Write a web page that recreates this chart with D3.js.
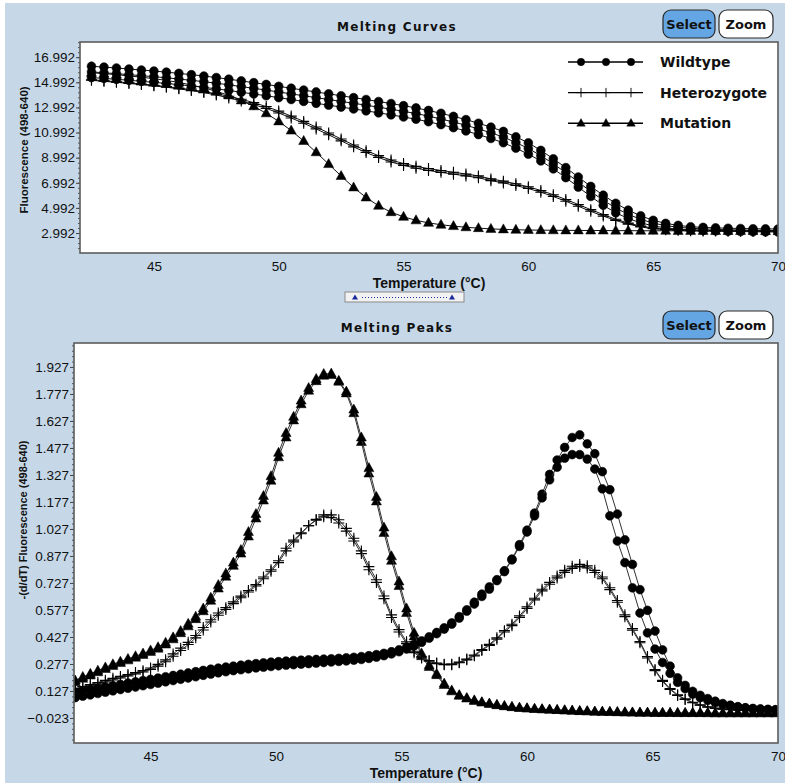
<!DOCTYPE html>
<html><head><meta charset="utf-8">
<script src="https://cdn.jsdelivr.net/npm/d3@7"></script>
<style>body{margin:0;background:#fff;}svg{display:block;}</style>
</head><body><svg id="c" width="785" height="783"></svg>
<script>
// ---------- DATA: Melting curves (top) ----------
const tempTop = [42.5,43,43.5,44,44.5,45,45.5,46,46.5,47,47.5,48,48.5,49,49.5,50,50.5,51,51.5,52,52.5,53,53.5,54,54.5,55,55.5,56,56.5,57,57.5,58,58.5,59,59.5,60,60.5,61,61.5,62,62.5,63,63.5,64,64.5,65,65.5,66,66.5,67,67.5,68,68.5,69,69.5,70];
const wildCurve1 = [16.27,16.20,16.13,16.05,15.97,15.89,15.80,15.70,15.60,15.49,15.37,15.24,15.10,14.96,14.82,14.67,14.52,14.37,14.22,14.07,13.92,13.77,13.62,13.46,13.30,13.13,12.95,12.75,12.52,12.28,12.02,11.73,11.42,11.08,10.65,10.17,9.57,8.90,8.20,7.45,6.70,6.00,5.36,4.81,4.36,4.00,3.76,3.60,3.49,3.44,3.40,3.37,3.35,3.33,3.32,3.31];
const wildCurve2 = [15.82,15.75,15.68,15.60,15.52,15.44,15.35,15.25,15.15,15.04,14.92,14.79,14.65,14.51,14.37,14.22,14.07,13.92,13.77,13.62,13.47,13.32,13.17,13.01,12.85,12.68,12.50,12.30,12.07,11.83,11.57,11.28,10.97,10.63,10.20,9.72,9.15,8.50,7.80,7.05,6.30,5.60,4.98,4.48,4.08,3.78,3.58,3.45,3.37,3.32,3.28,3.25,3.23,3.21,3.20,3.19];
const wildCurve3 = [15.37,15.30,15.23,15.15,15.07,14.99,14.90,14.80,14.70,14.59,14.47,14.34,14.20,14.06,13.92,13.77,13.62,13.47,13.32,13.17,13.02,12.87,12.72,12.56,12.40,12.23,12.05,11.85,11.62,11.38,11.12,10.83,10.52,10.18,9.75,9.27,8.73,8.10,7.40,6.65,5.90,5.20,4.60,4.15,3.80,3.56,3.40,3.30,3.25,3.20,3.16,3.13,3.11,3.09,3.08,3.07];
const hetCurve1 = [15.20,15.12,15.04,14.95,14.86,14.76,14.65,14.53,14.40,14.25,14.08,13.88,13.64,13.37,13.06,12.70,12.30,11.88,11.43,10.96,10.48,10.00,9.55,9.15,8.80,8.52,8.30,8.12,7.97,7.83,7.69,7.54,7.30,7.12,6.91,6.67,6.38,6.04,5.66,5.26,4.85,4.46,4.09,3.78,3.54,3.38,3.30,3.25,3.22,3.20,3.19,3.18,3.17,3.17,3.16,3.16];
const hetCurve2 = [15.15,15.07,14.99,14.90,14.81,14.71,14.60,14.47,14.33,14.17,13.98,13.75,13.50,13.22,12.91,12.55,12.15,11.73,11.28,10.81,10.33,9.85,9.40,9.00,8.65,8.37,8.15,7.97,7.82,7.68,7.54,7.39,7.16,6.98,6.77,6.53,6.24,5.90,5.52,5.12,4.72,4.34,3.99,3.70,3.48,3.33,3.26,3.21,3.18,3.16,3.15,3.14,3.13,3.13,3.12,3.12];
const mutCurve1 = [15.75,15.68,15.60,15.50,15.40,15.28,15.14,14.98,14.78,14.55,14.28,13.95,13.55,13.08,12.52,11.88,11.15,10.32,9.42,8.48,7.53,6.62,5.82,5.16,4.65,4.28,4.00,3.80,3.65,3.54,3.45,3.38,3.32,3.28,3.25,3.23,3.22,3.21,3.20,3.20,3.19,3.19,3.18,3.18,3.17,3.17,3.17,3.16,3.16,3.16,3.15,3.15,3.15,3.15,3.14,3.14];

// ---------- DATA: Melting peaks (bottom) ----------
const tempPeak = [42.0,42.3,42.6,42.9,43.2,43.5,43.8,44.1,44.4,44.7,45.0,45.3,45.6,45.9,46.2,46.5,46.8,47.1,47.4,47.7,48.0,48.3,48.6,48.9,49.2,49.5,49.8,50.1,50.4,50.7,51.0,51.3,51.6,51.9,52.2,52.5,52.8,53.1,53.4,53.7,54.0,54.3,54.6,54.9,55.2,55.5,55.8,56.1,56.4,56.7,57.0,57.3,57.6,57.9,58.2,58.5,58.8,59.1,59.4,59.7,60.0,60.3,60.6,60.9,61.2,61.5,61.8,62.1,62.4,62.7,63.0,63.3,63.6,63.9,64.2,64.5,64.8,65.1,65.4,65.7,66.0,66.3,66.6,66.9,67.2,67.5,67.8,68.1,68.4,68.7,69.0,69.3,69.6,69.9];
const wildPeak1 = [0.120,0.128,0.135,0.142,0.150,0.157,0.164,0.171,0.178,0.185,0.192,0.199,0.206,0.213,0.220,0.227,0.234,0.241,0.248,0.254,0.260,0.265,0.270,0.275,0.279,0.283,0.287,0.290,0.293,0.296,0.298,0.300,0.302,0.304,0.306,0.308,0.311,0.314,0.318,0.323,0.329,0.336,0.345,0.356,0.370,0.386,0.405,0.428,0.452,0.478,0.505,0.540,0.578,0.620,0.665,0.705,0.745,0.795,0.860,0.940,1.020,1.115,1.220,1.330,1.410,1.480,1.535,1.550,1.500,1.445,1.345,1.245,1.110,0.967,0.830,0.690,0.575,0.460,0.355,0.265,0.200,0.158,0.125,0.103,0.085,0.070,0.057,0.048,0.040,0.034,0.030,0.027,0.025,0.023];
const wildPeak2 = [0.090,0.098,0.105,0.113,0.120,0.128,0.135,0.142,0.149,0.156,0.163,0.170,0.178,0.185,0.192,0.199,0.206,0.214,0.221,0.228,0.234,0.240,0.245,0.250,0.255,0.259,0.263,0.267,0.270,0.273,0.276,0.279,0.282,0.285,0.288,0.291,0.294,0.298,0.302,0.308,0.315,0.323,0.333,0.345,0.360,0.377,0.397,0.420,0.445,0.471,0.498,0.532,0.570,0.610,0.652,0.693,0.740,0.790,0.855,0.930,1.010,1.100,1.200,1.300,1.370,1.420,1.440,1.440,1.415,1.360,1.250,1.100,0.960,0.840,0.700,0.560,0.450,0.360,0.285,0.225,0.175,0.140,0.110,0.090,0.075,0.062,0.052,0.044,0.037,0.032,0.028,0.025,0.023,0.021];
const hetPeak1 = [0.140,0.152,0.163,0.174,0.186,0.197,0.208,0.218,0.229,0.240,0.255,0.275,0.300,0.333,0.365,0.397,0.435,0.480,0.523,0.560,0.590,0.622,0.654,0.685,0.718,0.760,0.800,0.850,0.920,0.965,1.005,1.045,1.075,1.095,1.090,1.060,1.015,0.960,0.890,0.800,0.730,0.640,0.535,0.455,0.390,0.340,0.310,0.292,0.279,0.273,0.273,0.284,0.300,0.322,0.352,0.380,0.415,0.455,0.490,0.535,0.585,0.633,0.683,0.720,0.755,0.786,0.808,0.818,0.810,0.785,0.750,0.690,0.620,0.540,0.465,0.395,0.310,0.240,0.180,0.135,0.102,0.080,0.062,0.048,0.037,0.030,0.026,0.023,0.021,0.020,0.019,0.018,0.018,0.017];
const hetPeak2 = [0.130,0.142,0.154,0.165,0.177,0.188,0.199,0.210,0.221,0.232,0.246,0.265,0.289,0.320,0.352,0.385,0.422,0.466,0.510,0.548,0.580,0.612,0.645,0.677,0.710,0.750,0.792,0.840,0.905,0.955,1.000,1.045,1.080,1.105,1.105,1.078,1.030,0.975,0.905,0.818,0.745,0.655,0.550,0.468,0.400,0.348,0.316,0.296,0.282,0.275,0.276,0.287,0.304,0.327,0.357,0.386,0.422,0.462,0.498,0.544,0.594,0.642,0.692,0.730,0.766,0.797,0.820,0.830,0.822,0.797,0.760,0.700,0.630,0.550,0.474,0.402,0.318,0.246,0.186,0.140,0.106,0.083,0.064,0.050,0.039,0.032,0.027,0.024,0.022,0.021,0.020,0.019,0.019,0.018];
const mutPeak1 = [0.185,0.205,0.222,0.240,0.258,0.275,0.290,0.305,0.320,0.335,0.352,0.370,0.395,0.425,0.460,0.500,0.540,0.585,0.645,0.715,0.780,0.840,0.910,1.010,1.110,1.210,1.320,1.450,1.560,1.650,1.740,1.810,1.860,1.888,1.890,1.845,1.780,1.670,1.510,1.335,1.180,1.005,0.850,0.710,0.560,0.430,0.320,0.260,0.215,0.160,0.125,0.100,0.085,0.072,0.063,0.055,0.048,0.042,0.037,0.033,0.030,0.027,0.025,0.023,0.021,0.019,0.017,0.015,0.014,0.012,0.011,0.010,0.009,0.008,0.007,0.006,0.006,0.005,0.005,0.005,0.004,0.004,0.004,0.004,0.004,0.003,0.003,0.003,0.003,0.003,0.003,0.003,0.003,0.003];
const mutPeak2 = [0.175,0.195,0.213,0.231,0.249,0.266,0.282,0.297,0.312,0.327,0.344,0.362,0.385,0.414,0.448,0.486,0.526,0.570,0.628,0.696,0.762,0.822,0.890,0.985,1.085,1.185,1.295,1.425,1.535,1.630,1.720,1.795,1.848,1.878,1.882,1.850,1.790,1.690,1.535,1.365,1.205,1.035,0.875,0.735,0.585,0.450,0.335,0.270,0.222,0.168,0.130,0.104,0.088,0.075,0.065,0.057,0.050,0.044,0.039,0.034,0.031,0.028,0.026,0.024,0.022,0.020,0.018,0.016,0.015,0.013,0.012,0.011,0.010,0.009,0.008,0.007,0.007,0.006,0.006,0.006,0.005,0.005,0.005,0.005,0.004,0.004,0.004,0.004,0.004,0.004,0.004,0.004,0.004,0.004];

// ---------- ticks / labels ----------
const curveTicks = [2.992,4.992,6.992,8.992,10.992,12.992,14.992,16.992];
const peakTicks = [-0.023,0.127,0.277,0.427,0.577,0.727,0.877,1.027,1.177,1.327,1.477,1.627,1.777,1.927];
const tempTicks = [45,50,55,60,65,70];
const legendNames = ['Wildtype','Heterozygote','Mutation'];

// ---------- drawing ----------
const svg = d3.select('#c');
const BG = '#c6d8e8';
svg.append('rect').attr('x',5).attr('y',3).attr('width',780).attr('height',780).attr('fill',BG);

const markers = {
  circle: {d: d3.symbol(d3.symbolCircle, 60)(), fill:'#000', stroke:'#000', sw:0.6},
  plus: {d: 'M-5.5,0H5.5M0,-5.5V5.5', fill:'none', stroke:'#000', sw:1.1},
  tri: {d: 'M0,-5.5L5,3.5L-5,3.5Z', fill:'#000', stroke:'#000', sw:0.5}
};

function drawSeries(g, x, y, temps, vals, mk, lineColor){
  const n = Math.min(temps.length, vals.length);
  const pts = d3.range(n).map(i => [temps[i], vals[i]]);
  g.append('path').datum(pts)
    .attr('d', d3.line().x(d=>x(d[0])).y(d=>y(d[1])))
    .attr('fill','none').attr('stroke',lineColor).attr('stroke-width',1);
  g.append('g').selectAll('path').data(pts).join('path')
    .attr('transform', d=>`translate(${x(d[0])},${y(d[1])})`)
    .attr('d', mk.d).attr('fill', mk.fill).attr('stroke', mk.stroke).attr('stroke-width', mk.sw);
}

function button(x0, y0, w, label, active){
  svg.append('rect').attr('x',x0).attr('y',y0).attr('width',w).attr('height',28).attr('rx',8)
    .attr('fill', active ? '#64a6e4' : '#ffffff').attr('stroke','#2a2a2a').attr('stroke-width',1.2);
  svg.append('text').attr('x',x0+w/2).attr('y',y0+19).attr('text-anchor','middle')
    .attr('font-family','DejaVu Sans, sans-serif').attr('font-weight','bold').attr('font-size',13)
    .attr('fill','#111').text(label);
}

function panel(cfg){
  const x = d3.scaleLinear().domain(cfg.xDomain).range([cfg.left, cfg.right]);
  const y = d3.scaleLinear().domain(cfg.yDomain).range([cfg.bottom, cfg.top]);
  svg.append('rect').attr('x',cfg.left).attr('y',cfg.top).attr('width',cfg.right-cfg.left)
    .attr('height',cfg.bottom-cfg.top).attr('fill','#fff');
  const clipId = 'clip'+cfg.id;
  svg.append('clipPath').attr('id',clipId).append('rect').attr('x',cfg.left).attr('y',cfg.top)
    .attr('width',cfg.right-cfg.left).attr('height',cfg.bottom-cfg.top);

  // minor y ticks
  const t0 = cfg.yTicks[0];
  const minor = d3.range(-60, 200).map(i => t0 + i*cfg.minorStep)
    .filter(v => v > cfg.yDomain[0] && v < cfg.yDomain[1]);
  svg.append('g').attr('transform',`translate(${cfg.left},0)`)
    .call(d3.axisLeft(y).tickValues(minor).tickSize(2).tickFormat(''))
    .call(s=>{s.select('.domain').remove(); s.selectAll('line').attr('stroke','#555');});
  // major y ticks
  svg.append('g').attr('transform',`translate(${cfg.left},0)`)
    .call(d3.axisLeft(y).tickValues(cfg.yTicks).tickSize(4).tickPadding(1).tickFormat(d3.format('.3f')))
    .call(s=>{
      s.select('.domain').remove();
      s.selectAll('line').attr('stroke','#444');
      s.selectAll('text').attr('font-family','Liberation Sans, Arial, sans-serif').attr('font-size',13.5).attr('fill','#111');
    });
  // x ticks
  svg.append('g').attr('transform',`translate(0,${cfg.bottom})`)
    .call(d3.axisBottom(x).tickValues(tempTicks).tickSize(0).tickPadding(8).tickFormat(d3.format('d')))
    .call(s=>{
      s.select('.domain').remove();
      s.selectAll('text').attr('font-family','Liberation Sans, Arial, sans-serif').attr('font-size',13.5).attr('fill','#111');
    });

  const g = svg.append('g').attr('clip-path',`url(#${clipId})`);
  cfg.series.forEach(s => drawSeries(g, x, y, s.t, s.v, markers[s.mk], cfg.lineColor));

  // frame
  svg.append('rect').attr('x',cfg.left).attr('y',cfg.top).attr('width',cfg.right-cfg.left)
    .attr('height',cfg.bottom-cfg.top).attr('fill','none').attr('stroke','#5c5c5c').attr('stroke-width',1.6);

  // titles
  svg.append('text').attr('x',397).attr('y',cfg.titleY).attr('text-anchor','middle')
    .attr('font-family','DejaVu Sans, sans-serif').attr('font-weight','bold').attr('font-size',12)
    .attr('letter-spacing','1.3px').attr('fill','#111').text(cfg.title);
  svg.append('text').attr('x',(cfg.left+cfg.right)/2).attr('y',cfg.bottom+35).attr('text-anchor','middle')
    .attr('font-family','Liberation Sans, Arial, sans-serif').attr('font-weight','bold').attr('font-size',14)
    .attr('fill','#111').text('Temperature (°C)');
  svg.append('text').attr('transform',`translate(${cfg.yLabelX},${cfg.yLabelY}) rotate(-90)`).attr('text-anchor','middle')
    .attr('font-family','Liberation Sans, Arial, sans-serif').attr('font-weight','bold').attr('font-size',cfg.yLabelSize)
    .attr('fill','#111').text(cfg.yLabel);

  button(663, cfg.top-32, 52, 'Select', true);
  button(719, cfg.top-32, 54, 'Zoom', false);
  return {x, y};
}

panel({
  id:'top', left:80, right:778, top:42, bottom:253,
  xDomain:[42.04,70], yDomain:[1.4,18.2], yTicks:curveTicks, minorStep:0.4,
  title:'Melting Curves', titleY:31, yLabel:'Fluorescence (498-640)', yLabelX:28, yLabelY:150, yLabelSize:11.5,
  lineColor:'#111',
  series:[
    {t:tempTop, v:mutCurve1, mk:'tri'},
    {t:tempTop, v:hetCurve1, mk:'plus'},
    {t:tempTop, v:hetCurve2, mk:'plus'},
    {t:tempTop, v:wildCurve1, mk:'circle'},
    {t:tempTop, v:wildCurve2, mk:'circle'},
    {t:tempTop, v:wildCurve3, mk:'circle'}
  ]
});

panel({
  id:'bot', left:74, right:778, top:343, bottom:743,
  xDomain:[41.95,70], yDomain:[-0.162,2.06], yTicks:peakTicks, minorStep:0.03,
  title:'Melting Peaks', titleY:332, yLabel:'-(d/dT) Fluorescence (498-640)', yLabelX:27, yLabelY:520, yLabelSize:11,
  lineColor:'#333',
  series:[
    {t:tempPeak, v:mutPeak1, mk:'tri'},
    {t:tempPeak, v:mutPeak2, mk:'tri'},
    {t:tempPeak, v:hetPeak1, mk:'plus'},
    {t:tempPeak, v:hetPeak2, mk:'plus'},
    {t:tempPeak, v:wildPeak1, mk:'circle'},
    {t:tempPeak, v:wildPeak2, mk:'circle'}
  ]
});

// legend (top panel)
const legendMk = ['circle','plus','tri'];
legendNames.forEach((name, i) => {
  const ly = 62 + i*30.6;
  svg.append('line').attr('x1',568).attr('x2',643).attr('y1',ly).attr('y2',ly).attr('stroke','#000').attr('stroke-width',1.4);
  [581,606,631].forEach(mx => {
    const m = markers[legendMk[i]];
    svg.append('path').attr('transform',`translate(${mx},${ly}) scale(0.85)`).attr('d',m.d)
      .attr('fill',m.fill).attr('stroke',m.stroke).attr('stroke-width',m.sw);
  });
  svg.append('text').attr('x',660).attr('y',ly+5).attr('font-family','DejaVu Sans, sans-serif')
    .attr('font-weight','bold').attr('font-size',14).attr('fill','#111').text(name);
});

// splitter widget
svg.append('rect').attr('x',345).attr('y',292).attr('width',119).attr('height',10)
  .attr('fill','#f2f2f2').attr('stroke','#8a8a8a').attr('stroke-width',1);
svg.append('line').attr('x1',362).attr('x2',447).attr('y1',297.5).attr('y2',297.5)
  .attr('stroke','#2030a0').attr('stroke-width',1).attr('stroke-dasharray','1,2');
[355,452].forEach(tx => svg.append('path').attr('d',`M${tx},294.5L${tx+3},299.5L${tx-3},299.5Z`).attr('fill','#1a2a9a'));
</script></body></html>
